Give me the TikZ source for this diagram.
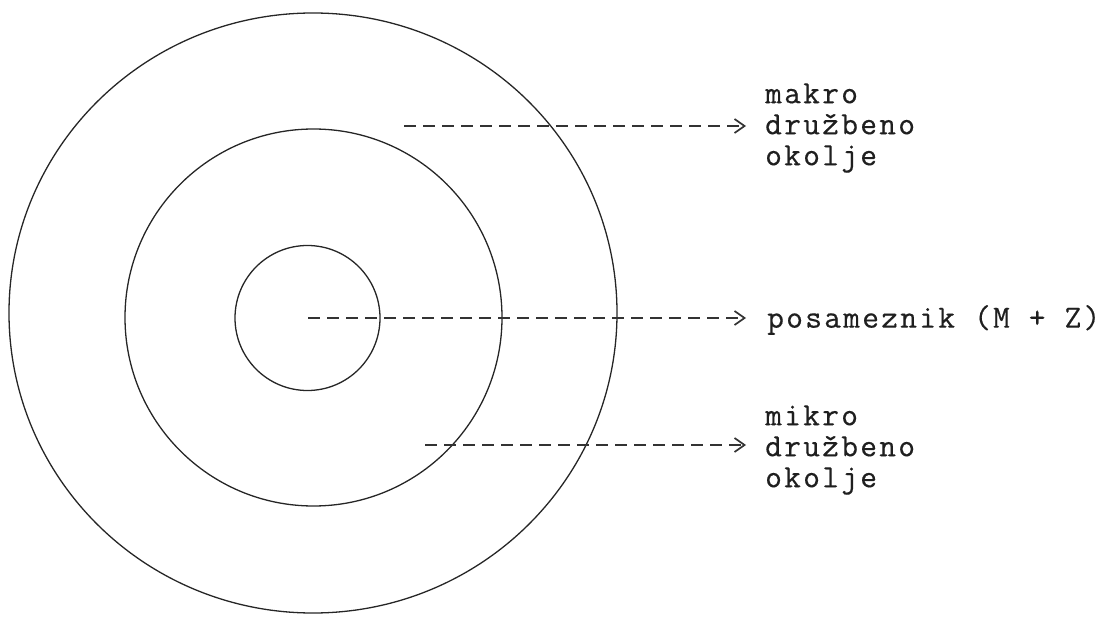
\documentclass[tikz,border=0pt]{standalone}
\usepackage{fontspec}
\newfontfamily\typewr[FakeBold=0.4,LetterSpace=7]{Latin Modern Mono}
\usetikzlibrary{arrows.meta}
\begin{document}
\begin{tikzpicture}[x=1pt,y=-1pt,
  ring/.style={line width=1.3pt, draw=black!85},
  leader/.style={line width=1.8pt, draw=black!80, dash pattern=on 12pt off 7pt,
    -{Straight Barb[length=10pt,width=14pt,line width=1.7pt]}},
  lab/.style={font=\typewr\fontsize{32.5}{31}\selectfont, align=left, inner sep=0pt, anchor=west, text=black!88}]
\useasboundingbox (0,0) rectangle (1113,617);
% circles
\draw[ring] (313,313) ellipse [x radius=304, y radius=300];
\draw[ring] (313.5,317.5) circle [radius=188.5];
\draw[ring] (307.5,318) circle [radius=72.5];
% labels
\node[lab] (makro) at (765,128) {makro\\družbeno\\okolje};
\node[lab] (pos) at (767,320) {posameznik (M + Z)};
\node[lab] (mikro) at (765,450) {mikro\\družbeno\\okolje};
% leader start points
\coordinate (s1) at (404,126);
\coordinate (s2) at (308,318);
\coordinate (s3) at (425,445);
\draw[leader] (s1) -- ([xshift=-19pt]s1 -| makro.west);
\draw[leader] (s2) -- ([xshift=-21pt]s2 -| pos.west);
\draw[leader] (s3) -- ([xshift=-19pt]s3 -| mikro.west);
\end{tikzpicture}
\end{document}
